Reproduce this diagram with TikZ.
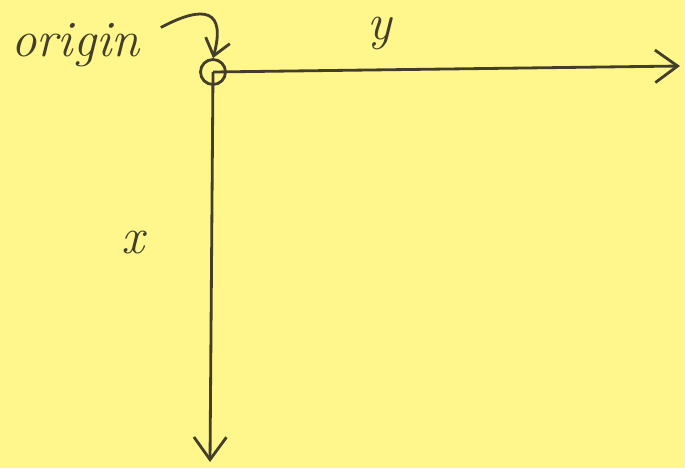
\documentclass[tikz,border=0pt]{standalone}
\usetikzlibrary{arrows.meta, positioning}
\definecolor{cpaper}{HTML}{FFF68C}
\definecolor{cink}{HTML}{433E2A}
\tikzset{
  every picture/.style={line width=1.6pt},
  arrow/.style={-{Straight Barb[length=4.5mm, width=6.5mm]}, draw=cink, line width=1.6pt},
  hand/.style={font=\itshape\fontsize{29}{33}\selectfont, text=cink, inner sep=0pt},
  pin/.style={circle, draw=cink, minimum size=0.5cm, inner sep=0pt},
}
\begin{document}
\begin{tikzpicture}[x=0.02cm, y=-0.02cm]
  \fill[cpaper] (0,0) rectangle (685,468);
  \useasboundingbox (0,0) rectangle (685,468);
  % origin and axes
  \node[pin] (o) at (213,72) {};
  \coordinate (yend) at (680,66);
  \coordinate (xend) at (210,462);
  \draw[arrow] (o.center) -- (yend);
  \draw[arrow] (o.center) -- (xend);
  % labels
  \node[hand, anchor=base west] (lbl) at (10,56) {origin};
  \node[hand] (ylbl) at (380,33) {y};
  \node[hand] (xlbl) at (133,243) {x};
  \draw[arrow, -{Straight Barb[length=3.2mm, width=5mm]}] (lbl.north east) ++(20,6) .. controls (205,4) and (226,10) .. (o.north);
\end{tikzpicture}
\end{document}
